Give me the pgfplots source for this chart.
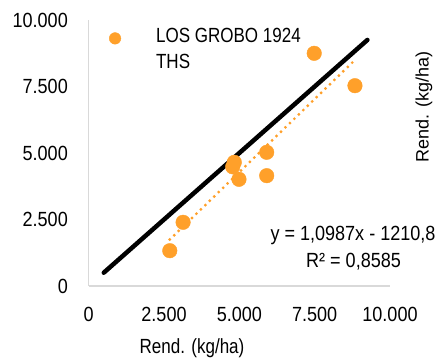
\documentclass[border=0pt]{standalone}
\usepackage{pgfplots}
\pgfplotsset{compat=1.18}
\usepackage{fontspec}
\setmainfont{Liberation Sans}[FakeStretch=0.83]
\newfontfamily\numfont{Liberation Sans}[FakeStretch=0.88]
\newfontfamily\plainfont{Liberation Sans}
\definecolor{orangec}{HTML}{FFA02A}
\definecolor{axgray}{HTML}{D9D9D9}
\begin{document}
\fontsize{20.5pt}{26pt}\selectfont
\begin{tikzpicture}
\useasboundingbox (-88.7pt,-72pt) rectangle (353.3pt,286pt);
\begin{axis}[
  at={(0pt,0pt)}, anchor=south west,
  scale only axis, width=301.3pt, height=266pt,
  xmin=0, xmax=10000, ymin=0, ymax=10000,
  axis x line*=bottom, axis y line*=left,
  axis line style={draw=axgray, line width=1.2pt, -},
  xtick={0,2500,5000,7500,10000},
  ytick={0,2500,5000,7500,10000},
  major tick length=0pt,
  /pgf/number format/.cd, 1000 sep={.}, fixed, assume math mode=true,
  /pgfplots/.cd,
  scaled ticks=false,
  tick label style={font=\numfont\fontsize{20.5pt}{24pt}\selectfont, inner sep=0pt},
  yticklabel style={anchor=east, xshift=-20.7pt},
  xticklabel style={anchor=north, yshift=-21pt},
  clip=false,
  legend style={draw=none, fill=none, at={(rel axis cs:0.057,0.985)}, anchor=north west,
    font=\fontsize{20.5pt}{26pt}\selectfont, cells={align=left},
    legend cell align=left},
  legend image code/.code={\fill[orangec] (0pt,11.5pt) circle (5.8pt); \path[draw=none,fill=none] (-6pt,-13pt) rectangle (39pt,13pt);},
]
\addplot[only marks, mark=*, mark size=7.3pt, mark options={draw=orangec, fill=orangec}]
  coordinates {(2691,1327) (3133,2395) (4832,4650) (4780,4480) (4988,4011)
               (5908,5026) (5908,4147) (7485,8748) (8837,7530)};
\addlegendentry{LOS GROBO 1924\\THS}
\addplot[draw=orangec, line width=3.2pt, line cap=round, dash pattern=on 0pt off 6.2pt, forget plot]
  coordinates {(2690,1745) (8840,8500)};
\addplot[black, line width=4.5pt, line cap=round, forget plot]
  coordinates {(500,500) (9250,9250)};
\node[anchor=base, font=\numfont] at (axis cs:8772,1692) {y = 1,0987x - 1210,8};
\node[anchor=base, font=\numfont] at (axis cs:8790,714) {R² = 0,8585};
\node[anchor=base] at (axis cs:3430,0) [yshift=-68pt] {Rend. (kg/ha)};
\node[rotate=90, anchor=center, font=\plainfont\fontsize{18pt}{20pt}\selectfont] at (axis cs:11128,6729) {Rend. (kg/ha)};
\end{axis}
\end{tikzpicture}
\end{document}
